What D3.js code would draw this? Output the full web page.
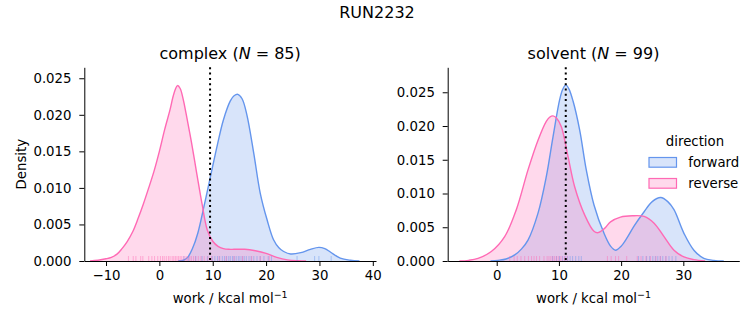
<!DOCTYPE html>
<html>
<head>
<meta charset="utf-8">
<script src="https://cdn.jsdelivr.net/npm/d3@7"></script>
<style>
  html, body { margin: 0; padding: 0; background: #fff; }
  svg { display: block; font-family: "DejaVu Sans", sans-serif; }
</style>
</head>
<body>
<svg id="chart" width="753" height="325"></svg>
<script>
// ---------------- data ----------------
const suptitle = "RUN2232";
const directions = ["forward", "reverse"];
const colors = { forward: "#6495ED", reverse: "#FF69B4" };

// complex panel
const complexN = 85;
const complexMean = 9.5;
const complexForwardX = [3.5, 4.5, 5.3, 6.2, 7.2, 8.4, 9.56, 10.9, 12.0, 13.3, 14.0, 14.7, 15.5, 16.4, 17.7, 18.9, 20.2, 21.4, 22.4, 23.3, 24.6, 26.5, 28.3, 29.9, 31.0, 32.1, 33.9, 35.8, 37.5];
const complexForwardD = [0, 0.0001, 0.0005, 0.0017, 0.0038, 0.0076, 0.0115, 0.0160, 0.0193, 0.0219, 0.0226, 0.0228, 0.0222, 0.0200, 0.0147, 0.0093, 0.0056, 0.0029, 0.0018, 0.0013, 0.00096, 0.00114, 0.0016, 0.00187, 0.0017, 0.0012, 0.0004, 0.0001, 0];
const complexReverseX = [-13, -11.5, -10, -9, -8, -7, -6, -5, -4, -3, -2, -1, 0, 1, 2, 2.5, 3.0, 3.4, 3.9, 4.5, 5, 6, 7, 8, 9, 10, 11, 12, 13, 14, 16, 18, 20, 22, 24, 26, 27.5];
const complexReverseD = [0, 0.0001, 0.0003, 0.0005, 0.0009, 0.0017, 0.0027, 0.0040, 0.0058, 0.0078, 0.0100, 0.0123, 0.0150, 0.0180, 0.0207, 0.0223, 0.0235, 0.0240, 0.0236, 0.0220, 0.0202, 0.0163, 0.0120, 0.0078, 0.0042, 0.0027, 0.0020, 0.0017, 0.0016, 0.0016, 0.0016, 0.0014, 0.00105, 0.0005, 0.00015, 0.00003, 0];
const complexForwardRug = [4.6, 5.5, 6.8, 8.0, 9.0, 9.9, 10.4, 10.9, 11.3, 11.8, 12.2, 12.6, 13.0, 13.3, 13.7, 14.0, 14.4, 14.8, 15.1, 15.5, 15.9, 16.3, 16.8, 17.2, 17.7, 18.3, 18.9, 19.6, 20.4, 21.0, 25.8, 29.1, 29.9, 32.2];
const complexReverseRug = [-5.8, -4.9, -4.4, -3.5, -3.1, -2.0, -1.4, -0.9, -0.3, 0.2, 0.6, 0.9, 1.3, 1.7, 2.0, 2.4, 2.7, 3.0, 3.3, 3.6, 3.9, 4.2, 4.6, 5.0, 5.3, 5.7, 6.0, 6.4, 6.8, 7.3, 7.8, 8.4, 9.1, 9.8, 11.2, 12.5, 14.0, 15.6, 17.3, 18.9, 20.6];
const complexXTicks = [-10, 0, 10, 20, 30, 40];
const complexYTicks = [0, 0.005, 0.010, 0.015, 0.020, 0.025];

// solvent panel
const solventN = 99;
const solventMean = 11.1;
const solventForwardX = [-1, 0.2, 1.5, 2.9, 4, 5.03, 6.64, 7.97, 9.05, 10.12, 10.6, 11.1, 11.6, 12.27, 13.34, 14.4, 15.64, 17.25, 18.3, 19.1, 20, 21, 22.1, 23.7, 25, 26.37, 27.5, 28.5, 30.1, 31.7, 33.3, 34.9, 36.5];
const solventForwardD = [0, 0.0001, 0.0003, 0.0009, 0.0018, 0.0031, 0.0071, 0.0125, 0.0184, 0.0239, 0.0254, 0.0261, 0.0255, 0.0237, 0.0194, 0.0135, 0.0083, 0.0041, 0.0022, 0.0016, 0.0022, 0.0035, 0.0052, 0.0073, 0.0088, 0.0094, 0.0088, 0.0076, 0.0041, 0.0016, 0.0004, 0.0001, 0];
const solventReverseX = [-6, -4.5, -3, -0.87, 1.28, 3.15, 5.03, 6.64, 7.97, 8.5, 9.05, 9.6, 10.39, 11.46, 12.53, 14.15, 15.64, 16.3, 17.3, 18.3, 19.9, 21.8, 23.7, 25.3, 26.9, 28.5, 30.1, 31.7, 33.5];
const solventReverseD = [0, 0.0001, 0.0004, 0.0014, 0.0036, 0.0076, 0.0135, 0.0179, 0.0207, 0.0213, 0.0215, 0.0212, 0.0199, 0.0155, 0.0110, 0.0068, 0.0044, 0.0042, 0.0048, 0.0058, 0.0065, 0.0067, 0.0066, 0.0056, 0.0036, 0.0016, 0.0006, 0.0002, 0];
const solventForwardRug = [9.0, 9.6, 10.1, 10.6, 11.0, 11.4, 11.8, 12.2, 12.7, 13.2, 13.6, 22.8, 23.5, 24.1, 24.6, 25.1, 25.5, 25.9, 26.3, 26.7, 27.2, 27.7, 28.2, 28.8];
const solventReverseRug = [2.1, 2.8, 3.3, 3.9, 4.5, 5.1, 5.6, 6.0, 6.4, 6.9, 7.6, 8.1, 8.4, 8.7, 9.0, 9.3, 9.6, 9.9, 10.2, 10.5, 10.9, 11.3, 17.8, 18.4, 19.1, 19.6, 20.9, 22.6, 23.2, 24.0, 24.7, 25.6, 26.3, 27.2];
const solventXTicks = [0, 10, 20, 30];
const solventYTicks = [0, 0.005, 0.010, 0.015, 0.020, 0.025];

// ---------------- drawing ----------------
const svg = d3.select("#chart");
const FS = 13.3;

svg.append("text").attr("x", 377).attr("y", 18.3).attr("text-anchor", "middle")
  .attr("font-size", 16).attr("fill", "#000").text(suptitle);

function zip(xs, ds) { return xs.map((x, i) => ({ x: x, d: ds[i] })); }

const panels = [
  { name: "complex", N: complexN, mean: complexMean,
    series: { forward: zip(complexForwardX, complexForwardD), reverse: zip(complexReverseX, complexReverseD) },
    rugs: { forward: complexForwardRug, reverse: complexReverseRug },
    xDomain: [-14.07, 40.6], yDomain: [0, 0.0265], left: 84.3, right: 376,
    xTicks: complexXTicks, yTicks: complexYTicks, ylabel: true, legend: false },
  { name: "solvent", N: solventN, mean: solventMean,
    series: { forward: zip(solventForwardX, solventForwardD), reverse: zip(solventReverseX, solventReverseD) },
    rugs: { forward: solventForwardRug, reverse: solventReverseRug },
    xDomain: [-7.88, 39.0], yDomain: [0, 0.0287], left: 447.7, right: 739.3,
    xTicks: solventXTicks, yTicks: solventYTicks, ylabel: false, legend: true }
];

const plotTop = 67.3, plotBottom = 261;
const curve = d3.curveCatmullRom.alpha(0.5);

panels.forEach(p => {
  const x = d3.scaleLinear().domain(p.xDomain).range([p.left, p.right]);
  const y = d3.scaleLinear().domain(p.yDomain).range([plotBottom, plotTop]);
  const g = svg.append("g");

  const area = d3.area().x(d => x(d.x)).y0(y(0)).y1(d => Math.min(y(0), y(d.d))).curve(curve);
  const line = d3.line().x(d => x(d.x)).y(d => y(d.d)).curve(curve);

  directions.forEach(dir => {
    g.append("path").datum(p.series[dir]).attr("d", area)
      .attr("fill", colors[dir]).attr("fill-opacity", 0.25).attr("stroke", "none");
  });
  directions.forEach(dir => {
    g.append("path").datum(p.series[dir]).attr("d", line)
      .attr("fill", "none").attr("stroke", colors[dir]).attr("stroke-width", 1.4);
  });
  // rugs
  directions.forEach(dir => {
    g.selectAll(null).data(p.rugs[dir]).enter().append("line")
      .attr("x1", d => x(d)).attr("x2", d => x(d))
      .attr("y1", plotBottom).attr("y2", plotBottom - 5)
      .attr("stroke", colors[dir]).attr("stroke-opacity", 0.45).attr("stroke-width", 1);
  });
  // mean line
  g.append("line").attr("x1", x(p.mean)).attr("x2", x(p.mean))
    .attr("y1", plotTop).attr("y2", plotBottom)
    .attr("stroke", "#000").attr("stroke-width", 2).attr("stroke-dasharray", "2,3.3");

  // axes
  const xa = g.append("g").attr("transform", `translate(0,${plotBottom})`)
    .call(d3.axisBottom(x).tickValues(p.xTicks).tickFormat(d => d < 0 ? "\u2212" + Math.abs(d) : d)
      .tickSize(5).tickSizeOuter(0).tickPadding(4.7));
  const ya = g.append("g").attr("transform", `translate(${p.left},0)`)
    .call(d3.axisLeft(y).tickValues(p.yTicks).tickFormat(d3.format(".3f"))
      .tickSize(5).tickSizeOuter(0).tickPadding(7.8));
  [xa, ya].forEach(a => {
    a.selectAll("text").attr("font-size", FS).attr("font-family", "DejaVu Sans").attr("fill", "#000");
    a.selectAll("line").attr("stroke", "#000").attr("stroke-width", 1);
    a.select(".domain").attr("stroke", "#000").attr("stroke-width", 1);
  });

  // title
  const cx = (p.left + p.right) / 2;
  const t = svg.append("text").attr("x", cx).attr("y", 58.5).attr("text-anchor", "middle")
    .attr("font-size", 16).attr("fill", "#000");
  t.append("tspan").text(p.name + " (");
  t.append("tspan").attr("font-style", "italic").text("N");
  t.append("tspan").text(" = " + p.N + ")");

  // x label
  const xl = svg.append("text").attr("x", cx).attr("y", 303).attr("text-anchor", "middle")
    .attr("font-size", FS).attr("fill", "#000");
  xl.append("tspan").text("work / kcal mol");
  xl.append("tspan").attr("dy", -5.5).attr("font-size", 9.5).text("\u22121");

  if (p.ylabel) {
    svg.append("text").attr("transform", `translate(26.4,${(plotTop + plotBottom) / 2}) rotate(-90)`)
      .attr("text-anchor", "middle").attr("font-size", FS).attr("fill", "#000").text("Density");
  }

  if (p.legend) {
    const lg = svg.append("g");
    lg.append("text").attr("x", 695).attr("y", 146).attr("text-anchor", "middle")
      .attr("font-size", FS).attr("fill", "#000").text("direction");
    directions.forEach((dir, i) => {
      const yy = 157.5 + i * 21;
      lg.append("rect").attr("x", 649).attr("y", yy).attr("width", 27.5).attr("height", 9.7)
        .attr("fill", colors[dir]).attr("fill-opacity", 0.25)
        .attr("stroke", colors[dir]).attr("stroke-width", 1.2);
      lg.append("text").attr("x", 688.3).attr("y", yy + 9.3)
        .attr("font-size", FS).attr("fill", "#000").text(dir);
    });
  }
});
</script>
</body>
</html>
